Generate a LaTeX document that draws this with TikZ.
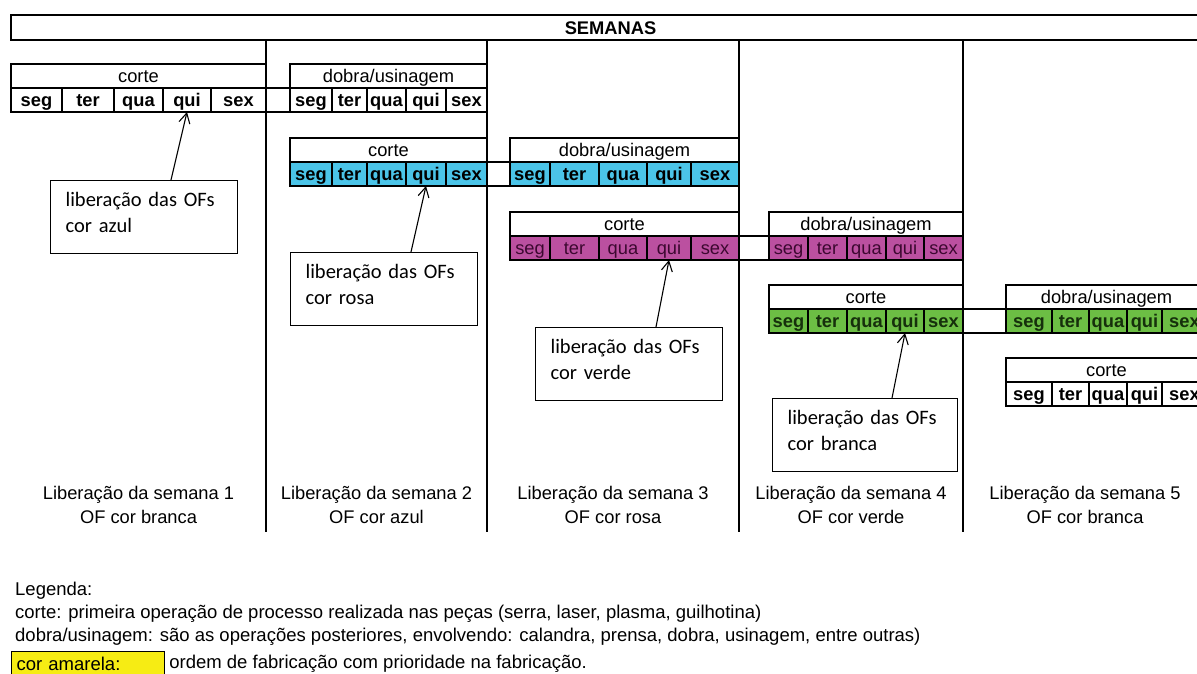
\documentclass[tikz,border=0pt]{standalone}
\usepackage{fontspec}
\setmainfont{Liberation Sans}
\newfontfamily\calibri{Carlito}
\usetikzlibrary{arrows.meta}

\definecolor{azul}{RGB}{75,196,232}
\definecolor{rosa}{RGB}{187,80,160}
\definecolor{verde}{RGB}{108,190,68}
\definecolor{amarela}{RGB}{246,236,20}
\definecolor{rosatxt}{RGB}{60,8,48}
\definecolor{verdetxt}{RGB}{22,48,12}

\tikzset{
    cellbox/.style={draw, line width=1.2pt, inner sep=0pt, outer sep=0pt,
        minimum height=24pt, text height=15pt, text depth=2pt,
        font=\fontsize{18.3}{22}\selectfont},
    head/.style={cellbox, fill=white},
    dayw/.style={cellbox, fill=white, font=\fontsize{18.3}{22}\selectfont\bfseries},
    dayb/.style={dayw, fill=azul},
    dayr/.style={cellbox, fill=rosa, text=rosatxt},
    dayg/.style={dayw, fill=verde, text=verdetxt},
    nota/.style={draw, line width=1.2pt, anchor=north west, text width=157pt,
        inner xsep=15pt, inner ysep=8.5pt, text height=17pt, text depth=39pt,
        align=left, font=\calibri\fontsize{20.5}{26}\selectfont},
    seta/.style={line width=1.1pt, -{Straight Barb[length=10pt, width=11pt]}},
    semana/.style={align=center, font=\fontsize{18.3}{24}\selectfont},
    legenda/.style={anchor=west, inner sep=0pt, font=\fontsize{18.5}{22}\selectfont}
}

\begin{document}
\begin{tikzpicture}[x=1pt, y=-1pt]
    \useasboundingbox (0,0) rectangle (1197,673);
    \clip (0,0) rectangle (1197,673);

    % header and week columns
    \node[cellbox, anchor=north west, minimum width=1199, minimum height=25,
        font=\fontsize{18.3}{22}\selectfont\bfseries] (semanas) at (11,15) {SEMANAS};
    \foreach \x in {266,487,739,963}
        \draw[line width=1.2pt] (\x,40) -- (\x,532);

    % week 1
    \node[head, minimum width=255] (c1) at (138.5,76) {corte};
    \foreach \d/\a/\b in {seg/11/62,ter/62/114,qua/114/163,qui/163/211,sex/211/266}
        \node[dayw, minimum width={\b-\a}] (c1-\d) at ({(\a+\b)/2},100) {\d};

    % week 2
    \node[head, minimum width=197] (d2) at (388.5,76) {dobra/usinagem};
    \foreach \d/\a/\b in {seg/290/332,ter/332/367,qua/367/406,qui/406/446,sex/446/487}
        \node[dayw, minimum width={\b-\a}] (d2-\d) at ({(\a+\b)/2},100) {\d};
    \node[head, minimum width=197] (c2) at (388.5,150) {corte};
    \foreach \d/\a/\b in {seg/290/332,ter/332/367,qua/367/406,qui/406/446,sex/446/487}
        \node[dayb, minimum width={\b-\a}] (c2-\d) at ({(\a+\b)/2},174) {\d};

    % week 3
    \node[head, minimum width=229] (d3) at (624.5,150) {dobra/usinagem};
    \foreach \d/\a/\b in {seg/510/550,ter/550/599,qua/599/647,qui/647/691,sex/691/739}
        \node[dayb, minimum width={\b-\a}] (d3-\d) at ({(\a+\b)/2},174) {\d};
    \node[head, minimum width=229] (c3) at (624.5,224) {corte};
    \foreach \d/\a/\b in {seg/510/550,ter/550/599,qua/599/647,qui/647/691,sex/691/739}
        \node[dayr, minimum width={\b-\a}] (c3-\d) at ({(\a+\b)/2},248) {\d};

    % week 4
    \node[head, minimum width=194] (d4) at (866,224) {dobra/usinagem};
    \foreach \d/\a/\b in {seg/769/808,ter/808/847,qua/847/886,qui/886/924,sex/924/963}
        \node[dayr, minimum width={\b-\a}] (d4-\d) at ({(\a+\b)/2},248) {\d};
    \node[head, minimum width=194] (c4) at (866,297) {corte};
    \foreach \d/\a/\b in {seg/769/808,ter/808/847,qua/847/886,qui/886/924,sex/924/963}
        \node[dayg, minimum width={\b-\a}] (c4-\d) at ({(\a+\b)/2},321) {\d};

    % week 5 (runs past the right edge)
    \node[head, minimum width=201] (d5) at (1106.5,297) {dobra/usinagem};
    \foreach \d/\a/\b in {seg/1006/1052,ter/1052/1089,qua/1089/1127,qui/1127/1162,sex/1162/1207}
        \node[dayg, minimum width={\b-\a}] (d5-\d) at ({(\a+\b)/2},321) {\d};
    \node[head, minimum width=201] (c5) at (1106.5,370) {corte};
    \foreach \d/\a/\b in {seg/1006/1052,ter/1052/1089,qua/1089/1127,qui/1127/1162,sex/1162/1207}
        \node[dayw, minimum width={\b-\a}] (c5-\d) at ({(\a+\b)/2},394) {\d};

    % rows running on into the next week
    \foreach \p/\q in {c1/d2,c2/d3,c3/d4,c4/d5} {
        \draw[line width=1.2pt] (\p-sex.north east) -- (\q-seg.north west);
        \draw[line width=1.2pt] (\p-sex.south east) -- (\q-seg.south west);
    }

    % release notes
    \node[nota] (n1) at (50,180) {liberação das OFs\\cor azul};
    \node[nota] (n2) at (290,252) {liberação das OFs\\cor rosa};
    \node[nota] (n3) at (535,327) {liberação das OFs\\cor verde};
    \node[nota, text width=155pt] (n4) at (772,398) {liberação das OFs\\cor branca};
    \draw[seta] ([xshift=121pt]n1.north west) -- (c1-qui.south);
    \draw[seta] ([xshift=121pt]n2.north west) -- (c2-qui.south);
    \draw[seta] ([xshift=121pt]n3.north west) -- (c3-qui.south);
    \draw[seta] ([xshift=120pt]n4.north west) -- (c4-qui.south);

    % week labels
    \node[semana] (s1) at (138.5,505) {Liberação da semana 1\\OF cor branca};
    \node[semana] (s2) at (376.5,505) {Liberação da semana 2\\OF cor azul};
    \node[semana] (s3) at (613,505) {Liberação da semana 3\\OF cor rosa};
    \node[semana] (s4) at (851,505) {Liberação da semana 4\\OF cor verde};
    \node[semana] (s5) at (1085,505) {Liberação da semana 5\\OF cor branca};

    % legend
    \node[legenda] (leg0) at (15,591) {Legenda:};
    \node[legenda] (leg1) at (15,614) {corte: primeira operação de processo realizada nas peças (serra, laser, plasma, guilhotina)};
    \node[legenda] (leg2) at (15,637) {dobra/usinagem: são as operações posteriores, envolvendo: calandra, prensa, dobra, usinagem, entre outras)};
    \node[draw, line width=1.2pt, fill=amarela, anchor=north west, text width=143pt,
        inner xsep=5pt, inner ysep=0pt, minimum height=24pt, align=left,
        font=\fontsize{18.5}{22}\selectfont] (amarela) at (11,651) {cor amarela:};
    \node[legenda] (leg3) at ([xshift=4pt]amarela.east) {ordem de fabricação com prioridade na fabricação.};
\end{tikzpicture}
\end{document}
